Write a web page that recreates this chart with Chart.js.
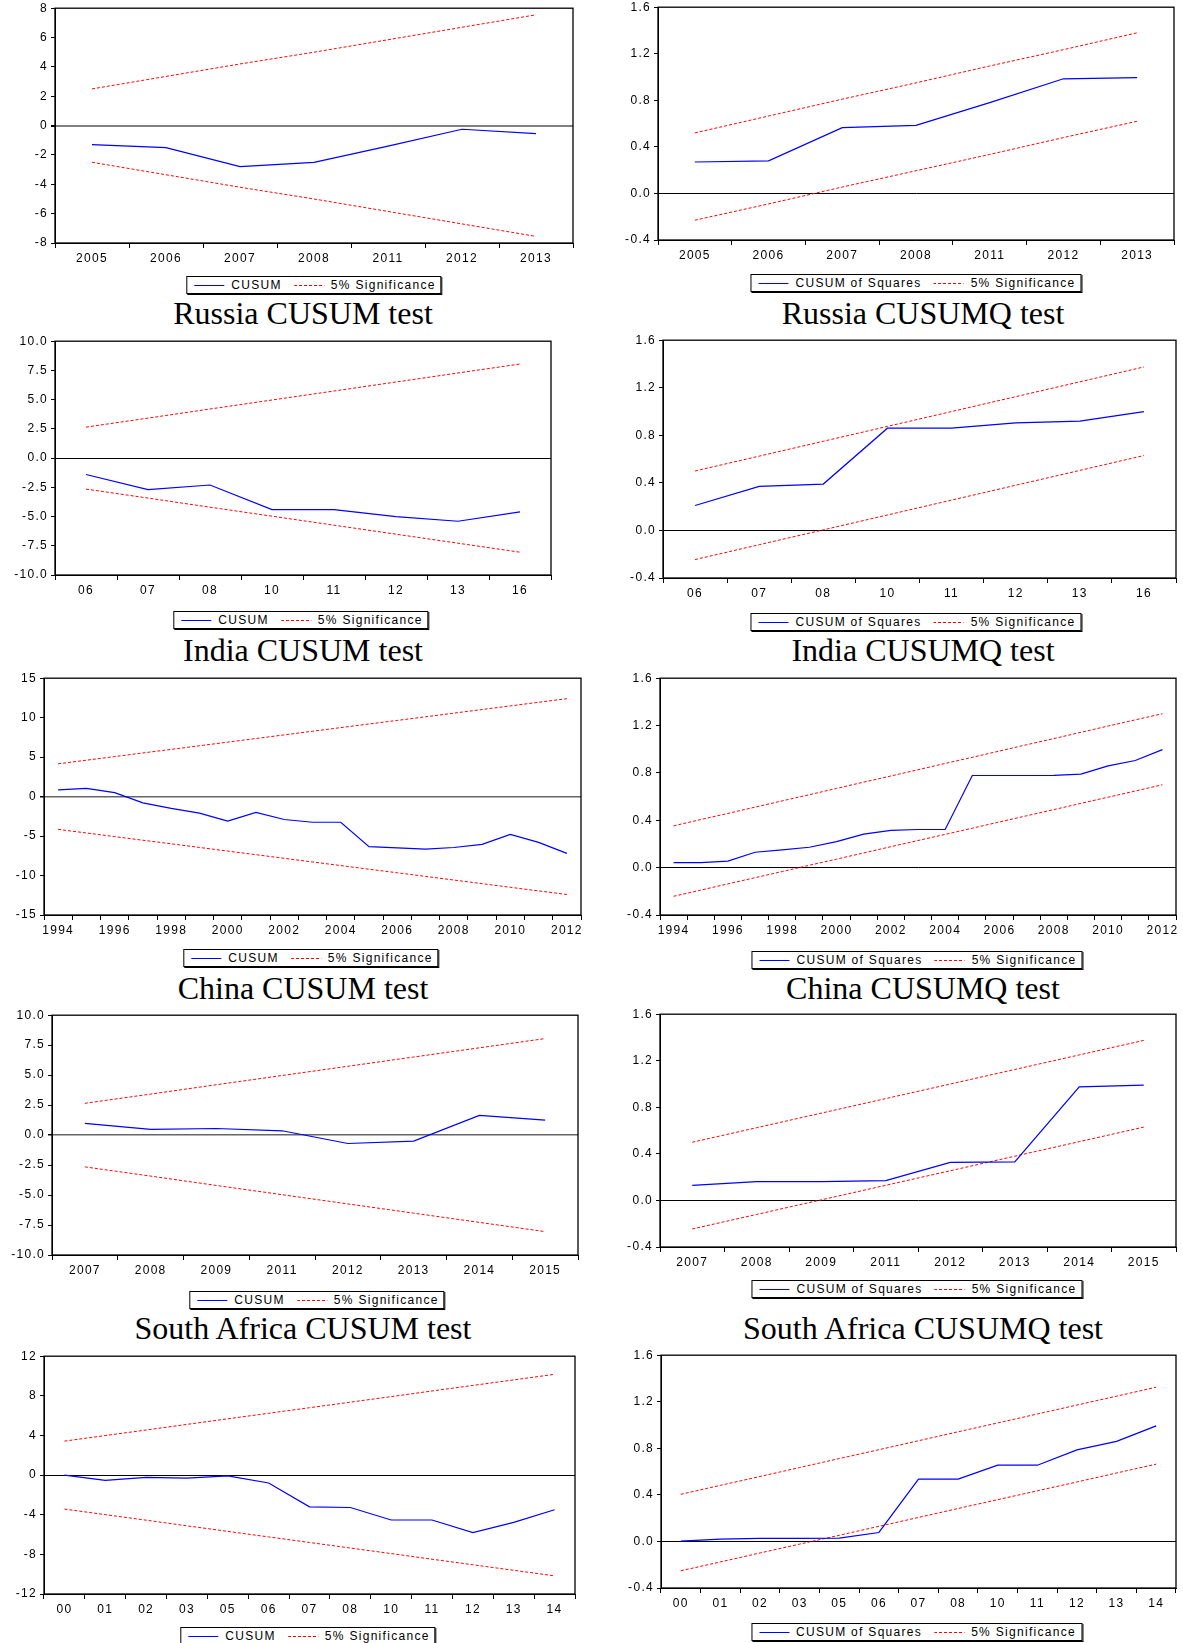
<!DOCTYPE html>
<html>
<head>
<meta charset="utf-8">
<script src="https://cdn.jsdelivr.net/npm/chart.js@4.4.1/dist/chart.umd.min.js"></script>
<style>
  body { margin: 0; background: #fff; }
  #fig { position: relative; width: 1183px; height: 1643px; overflow: hidden; background: #fff; }
  #fig canvas { position: absolute; }
  .leg {
    position: absolute; transform: translateX(-50%);
    border: 1px solid #000; box-shadow: 1px 1px 0 #000;
    height: 16px; display: flex; align-items: center; white-space: nowrap;
    padding: 0 5px; background: #fff;
    font: 12px "Liberation Sans", Arial, sans-serif; letter-spacing: 1.3px; color: #000;
  }
  .leg .ln { display: inline-block; width: 30px; height: 1px; margin: 0 7px 0 2px; }
  .leg .solid { background: #0000ff; }
  .leg .dash { background: repeating-linear-gradient(to right, #ff0000 0 3px, transparent 3px 5px); margin-left: 12px; }
  .ttl {
    position: absolute; transform: translateX(-50%); white-space: nowrap;
    font: 32px "Liberation Serif", "Times New Roman", serif; line-height: 32px; color: #000;
  }
</style>
</head>
<body>
<div id="fig"></div>
<script>
// Russia
const ruYears = ['2005', '2006', '2007', '2008', '2011', '2012', '2013'];
const ruCusum = [-1.3, -1.5, -2.8, -2.5, -1.4, -0.25, -0.55];
const ruCusumUp = [2.5, 3.35, 4.2, 5.0, 5.85, 6.7, 7.55];
const ruCusumLo = [-2.5, -3.35, -4.2, -5.0, -5.85, -6.7, -7.55];
const ruSq = [0.27, 0.28, 0.565, 0.585, 0.78, 0.985, 0.995];
const ruSqUp = [0.52, 0.665, 0.81, 0.95, 1.095, 1.235, 1.38];
const ruSqLo = [-0.23, -0.09, 0.055, 0.195, 0.335, 0.48, 0.62];

// India
const inYears = ['06', '07', '08', '10', '11', '12', '13', '16'];
const inCusum = [-1.4, -2.7, -2.3, -4.4, -4.4, -5.0, -5.4, -4.6];
const inCusumUp = [2.65, 3.42, 4.2, 4.97, 5.74, 6.51, 7.28, 8.05];
const inCusumLo = [-2.65, -3.42, -4.2, -4.97, -5.74, -6.51, -7.28, -8.05];
const inSq = [0.21, 0.37, 0.39, 0.86, 0.86, 0.905, 0.92, 1.0];
const inSqUp = [0.5, 0.625, 0.75, 0.875, 1.0, 1.125, 1.25, 1.375];
const inSqLo = [-0.245, -0.12, 0.005, 0.13, 0.255, 0.38, 0.505, 0.63];

// China
const cnYears = ['1994', '1995', '1996', '1997', '1998', '1999', '2000', '2001', '2002', '2003',
  '2004', '2005', '2006', '2007', '2008', '2009', '2010', '2011', '2012'];
const cnCusum = [0.85, 1.05, 0.5, -0.8, -1.5, -2.1, -3.1, -2.0, -2.9, -3.25,
  -3.25, -6.35, -6.5, -6.65, -6.45, -6.05, -4.8, -5.8, -7.2];
const cnCusumUp = [4.15, 4.61, 5.07, 5.53, 5.98, 6.44, 6.9, 7.36, 7.82, 8.28,
  8.74, 9.2, 9.65, 10.11, 10.57, 11.03, 11.49, 11.95, 12.4];
const cnCusumLo = [-4.15, -4.61, -5.07, -5.53, -5.98, -6.44, -6.9, -7.36, -7.82, -8.28,
  -8.74, -9.2, -9.65, -10.11, -10.57, -11.03, -11.49, -11.95, -12.4];
const cnSq = [0.042, 0.042, 0.055, 0.13, 0.15, 0.172, 0.22, 0.283, 0.314, 0.322,
  0.322, 0.778, 0.778, 0.778, 0.78, 0.79, 0.86, 0.905, 0.997];
const cnSqUp = [0.353, 0.406, 0.458, 0.511, 0.564, 0.616, 0.669, 0.722, 0.774, 0.827,
  0.88, 0.932, 0.985, 1.038, 1.09, 1.143, 1.196, 1.248, 1.3];
const cnSqLo = [-0.242, -0.19, -0.137, -0.085, -0.033, 0.02, 0.072, 0.124, 0.177, 0.229,
  0.281, 0.333, 0.386, 0.438, 0.49, 0.543, 0.595, 0.647, 0.7];

// South Africa
const saYears = ['2007', '2008', '2009', '2011', '2012', '2013', '2014', '2015'];
const saCusum = [0.97, 0.47, 0.55, 0.36, -0.7, -0.5, 1.64, 1.25];
const saCusumUp = [2.65, 3.42, 4.2, 4.97, 5.74, 6.51, 7.28, 8.05];
const saCusumLo = [-2.65, -3.42, -4.2, -4.97, -5.74, -6.51, -7.28, -8.05];
const saSq = [0.13, 0.162, 0.162, 0.17, 0.327, 0.332, 0.975, 0.99];
const saSqUp = [0.5, 0.625, 0.75, 0.875, 1.0, 1.125, 1.25, 1.375];
const saSqLo = [-0.245, -0.12, 0.005, 0.13, 0.255, 0.38, 0.505, 0.63];

// fifth row (title cut off in the source)
const r5Years = ['00', '01', '02', '03', '05', '06', '07', '08', '10', '11', '12', '13', '14'];
const r5Cusum = [0, -0.53, -0.23, -0.3, -0.07, -0.8, -3.2, -3.27, -4.53, -4.53, -5.8, -4.77, -3.5];
const r5CusumUp = [3.43, 3.99, 4.55, 5.12, 5.68, 6.24, 6.8, 7.36, 7.92, 8.49, 9.05, 9.61, 10.17];
const r5CusumLo = [-3.43, -3.99, -4.55, -5.12, -5.68, -6.24, -6.8, -7.36, -7.92, -8.49, -9.05, -9.61, -10.17];
const r5Sq = [0.003, 0.02, 0.026, 0.026, 0.028, 0.077, 0.536, 0.536, 0.655, 0.655, 0.786, 0.86, 0.993];
const r5SqUp = [0.405, 0.482, 0.558, 0.635, 0.712, 0.788, 0.865, 0.942, 1.018, 1.095, 1.172, 1.248, 1.325];
const r5SqLo = [-0.252, -0.176, -0.099, -0.023, 0.053, 0.13, 0.206, 0.283, 0.359, 0.435, 0.511, 0.588, 0.664];

const sqAxis = [-0.4, 1.6, 0.4];

// box = [left, top, right, bottom] of the plot frame
const panels = [
  { box: [54.5, 8.4, 572, 243], labels: ruYears, main: ruCusum, up: ruCusumUp, lo: ruCusumLo,
    y: [-8, 8, 2], dec: 0, zero: '#808080', zeroW: 2, name: 'CUSUM', leg: [314, 276], title: 'Russia CUSUM test', tpos: [303, 297] },
  { box: [658, 7.3, 1173.5, 240], labels: ruYears, main: ruSq, up: ruSqUp, lo: ruSqLo,
    y: sqAxis, dec: 1, zero: '#000', zeroW: 1, name: 'CUSUM of Squares', leg: [916, 274], title: 'Russia CUSUMQ test', tpos: [923, 297] },
  { box: [54.5, 340.5, 550, 574], labels: inYears, main: inCusum, up: inCusumUp, lo: inCusumLo,
    y: [-10, 10, 2.5], dec: 1, zero: '#000', zeroW: 1, name: 'CUSUM', leg: [301, 611], title: 'India CUSUM test', tpos: [303, 634] },
  { box: [663, 339.5, 1175.6, 577], labels: inYears, main: inSq, up: inSqUp, lo: inSqLo,
    y: sqAxis, dec: 1, zero: '#000', zeroW: 1, name: 'CUSUM of Squares', leg: [916, 613], title: 'India CUSUMQ test', tpos: [923, 634] },
  { box: [44, 678, 580.5, 914.7], labels: cnYears, main: cnCusum, up: cnCusumUp, lo: cnCusumLo, every: 2,
    y: [-15, 15, 5], dec: 0, zero: '#666', zeroW: 1.5, name: 'CUSUM', leg: [311, 949], title: 'China CUSUM test', tpos: [303, 972] },
  { box: [660, 678, 1175.6, 914.7], labels: cnYears, main: cnSq, up: cnSqUp, lo: cnSqLo, every: 2,
    y: sqAxis, dec: 1, zero: '#000', zeroW: 1, name: 'CUSUM of Squares', leg: [917, 951], title: 'China CUSUMQ test', tpos: [923, 972] },
  { box: [52.4, 1015, 578.4, 1255], labels: saYears, main: saCusum, up: saCusumUp, lo: saCusumLo,
    y: [-10, 10, 2.5], dec: 1, zero: '#666', zeroW: 1.5, name: 'CUSUM', leg: [317, 1291], title: 'South Africa CUSUM test', tpos: [303, 1312] },
  { box: [660, 1014, 1175.6, 1247], labels: saYears, main: saSq, up: saSqUp, lo: saSqLo,
    y: sqAxis, dec: 1, zero: '#000', zeroW: 1, name: 'CUSUM of Squares', leg: [917, 1280], title: 'South Africa CUSUMQ test', tpos: [923, 1312] },
  { box: [44, 1356, 575, 1594], labels: r5Years, main: r5Cusum, up: r5CusumUp, lo: r5CusumLo,
    y: [-12, 12, 4], dec: 0, zero: '#000', zeroW: 1, name: 'CUSUM', leg: [308, 1627] },
  { box: [661, 1355, 1175.6, 1588], labels: r5Years, main: r5Sq, up: r5SqUp, lo: r5SqLo,
    y: sqAxis, dec: 1, zero: '#000', zeroW: 1, name: 'CUSUM of Squares', leg: [916.5, 1623] }
];

const YW = 50, XH = 26, PT = 10, PR = 10;
const tickFont = { family: '"Liberation Sans", Arial, sans-serif', size: 12 };

const framePlugin = {
  id: 'frame',
  beforeDraw(chart) { chart.ctx.letterSpacing = '1.3px'; },
  afterDraw(chart) {
    const a = chart.chartArea, ctx = chart.ctx;
    ctx.save();
    ctx.strokeStyle = '#000';
    ctx.lineWidth = 1.3;
    ctx.strokeRect(a.left, a.top, a.right - a.left, a.bottom - a.top);
    ctx.restore();
  }
};

function makePanel(p) {
  const fig = document.getElementById('fig');
  const [L, T, R, B] = p.box;
  const canvas = document.createElement('canvas');
  const w = Math.round(R - L + YW + PR), h = Math.round(B - T + PT + XH);
  canvas.width = w; canvas.height = h;
  canvas.style.left = Math.round(L - YW) + 'px';
  canvas.style.top = Math.round(T - PT) + 'px';
  canvas.style.width = w + 'px'; canvas.style.height = h + 'px';
  fig.appendChild(canvas);

  new Chart(canvas.getContext('2d'), {
    type: 'line',
    data: {
      labels: p.labels,
      datasets: [
        { data: p.main, borderColor: '#0000ff', borderWidth: 1.2 },
        { data: p.up, borderColor: '#ff0000', borderWidth: 1, borderDash: [3, 2] },
        { data: p.lo, borderColor: '#ff0000', borderWidth: 1, borderDash: [3, 2] }
      ]
    },
    options: {
      responsive: false,
      animation: false,
      devicePixelRatio: 1,
      layout: { padding: { top: PT, right: PR, left: 0, bottom: 0 } },
      elements: { point: { radius: 0 }, line: { tension: 0, fill: false } },
      plugins: { legend: { display: false }, tooltip: { enabled: false } },
      scales: {
        x: {
          type: 'category',
          offset: true,
          afterFit(s) { s.height = XH; },
          grid: { offset: true, drawOnChartArea: false, tickLength: 5, color: '#000', lineWidth: 1 },
          border: { color: '#000', width: 1 },
          ticks: {
            color: '#000', font: tickFont, maxRotation: 0, autoSkip: false, padding: 3,
            callback: function (v, i) {
              if (p.every && i % p.every !== 0) return '';
              return this.getLabelForValue(v);
            }
          }
        },
        y: {
          min: p.y[0], max: p.y[1],
          afterFit(s) { s.width = YW; },
          grid: {
            drawOnChartArea: true, tickLength: 4, tickColor: '#000',
            color: c => (c.tick && c.tick.value === 0 ? p.zero : 'rgba(0,0,0,0)'),
            lineWidth: c => (c.tick && c.tick.value === 0 ? p.zeroW : 1)
          },
          border: { color: '#000', width: 1 },
          ticks: {
            stepSize: p.y[2], color: '#000', font: tickFont, padding: 3,
            callback: v => Number(v).toFixed(p.dec)
          }
        }
      }
    },
    plugins: [framePlugin]
  });

  const leg = document.createElement('div');
  leg.className = 'leg';
  leg.style.left = p.leg[0] + 'px';
  leg.style.top = p.leg[1] + 'px';
  leg.innerHTML = '<span class="ln solid"></span><span>' + p.name +
    '</span><span class="ln dash"></span><span>5% Significance</span>';
  fig.appendChild(leg);

  if (p.title) {
    const t = document.createElement('div');
    t.className = 'ttl';
    t.style.left = p.tpos[0] + 'px';
    t.style.top = p.tpos[1] + 'px';
    t.textContent = p.title;
    fig.appendChild(t);
  }
}

panels.forEach(makePanel);
</script>
</body>
</html>
